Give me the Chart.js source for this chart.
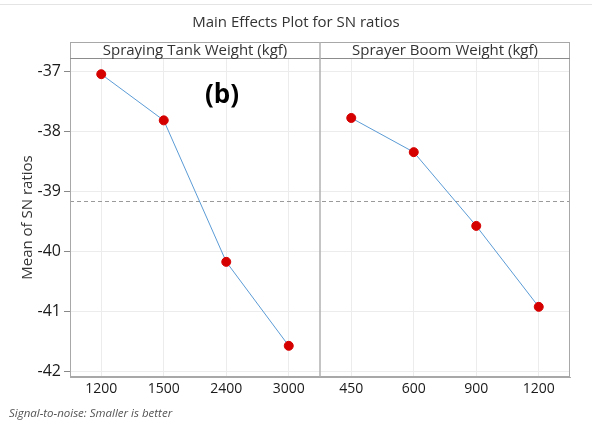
<!DOCTYPE html>
<html>
<head>
<meta charset="utf-8">
<script src="https://cdn.jsdelivr.net/npm/chart.js@4"></script>
<style>
  html, body { margin: 0; padding: 0; background: #fff; }
  #wrap { position: relative; width: 592px; height: 429px; }
  #topline { position: absolute; left: 0; top: 4px; width: 592px; height: 1px; background: #e4e4e4; }
  canvas { position: absolute; left: 0; top: 0; }
</style>
</head>
<body>
<div id="wrap">
  <div id="topline"></div>
  <canvas id="chart" width="592" height="429"></canvas>
</div>
<script>
const panels = ['Spraying Tank Weight (kgf)', 'Sprayer Boom Weight (kgf)']
const tankLevels = ['1200', '1500', '2400', '3000']
const boomLevels = ['450', '600', '900', '1200']
const tankSN = [-37.05, -37.82, -40.18, -41.58]
const boomSN = [-37.78, -38.35, -39.58, -40.93]

const FONT = '"Open Sans", "Noto Sans", sans-serif'
const labels = tankLevels.concat(boomLevels)
const tankData = tankSN.concat([null, null, null, null])
const boomData = [null, null, null, null].concat(boomSN)
const allSN = tankSN.concat(boomSN)
const grandMean = allSN.reduce((a, b) => a + b, 0) / allSN.length

const decor = {
    id: 'decor',
    beforeDatasetsDraw(chart) {
        const ctx = chart.ctx
        const a = chart.chartArea
        const x = chart.scales.x
        const y = chart.scales.y
        const headTop = 42
        const midX = (x.getPixelForValue(3) + x.getPixelForValue(4)) / 2

        ctx.save()
        // mean reference line
        const ym = Math.round(y.getPixelForValue(grandMean)) + 0.5
        ctx.strokeStyle = '#9a9a9a'
        ctx.lineWidth = 1
        ctx.setLineDash([4, 3])
        ctx.beginPath()
        ctx.moveTo(a.left, ym)
        ctx.lineTo(a.right, ym)
        ctx.stroke()
        ctx.setLineDash([])

        // outer frame + header strip
        ctx.strokeStyle = '#a8a8a8'
        ctx.strokeRect(a.left + 0.5, headTop + 0.5, a.right - a.left - 1, a.bottom - headTop - 1)
        ctx.strokeStyle = '#8c8c8c'
        ctx.beginPath()
        ctx.moveTo(a.left, a.top + 0.5)
        ctx.lineTo(a.right, a.top + 0.5)
        ctx.stroke()

        // panel divider
        ctx.strokeStyle = '#b0b0b0'
        ctx.lineWidth = 1.5
        ctx.beginPath()
        ctx.moveTo(midX, headTop)
        ctx.lineTo(midX, a.bottom)
        ctx.stroke()

        // panel headers
        ctx.fillStyle = '#333'
        ctx.font = '15px ' + FONT
        ctx.textAlign = 'center'
        ctx.textBaseline = 'middle'
        ctx.fillText(panels[0], (a.left + midX) / 2, (headTop + a.top) / 2 + 1)
        ctx.fillText(panels[1], (midX + a.right) / 2, (headTop + a.top) / 2 + 1)

        // chart title
        ctx.fillStyle = '#333'
        ctx.font = '15px ' + FONT
        ctx.fillText('Main Effects Plot for SN ratios', 296, 23)

        // panel tag
        ctx.fillStyle = '#000'
        ctx.font = 'bold 26px ' + FONT
        ctx.fillText('(b)', 222, 96)

        // footnote
        ctx.fillStyle = '#555'
        ctx.font = 'italic 11.5px ' + FONT
        ctx.textAlign = 'left'
        ctx.fillText('Signal-to-noise: Smaller is better', 9, 414)
        ctx.restore()
    }
}

const lineStyle = {
    borderColor: '#5b9bd5',
    borderWidth: 1,
    pointBackgroundColor: '#d50000',
    pointBorderColor: '#d50000',
    pointRadius: 4.5,
    spanGaps: false,
    tension: 0
}

new Chart(document.getElementById('chart'), {
    type: 'line',
    data: {
        labels: labels,
        datasets: [
            Object.assign({ label: panels[0], data: tankData }, lineStyle),
            Object.assign({ label: panels[1], data: boomData }, lineStyle)
        ]
    },
    options: {
        responsive: false,
        animation: false,
        devicePixelRatio: 1,
        layout: { padding: { top: 58, right: 22, left: 19, bottom: 0 } },
        plugins: { legend: { display: false }, title: { display: false }, tooltip: { enabled: false } },
        scales: {
            x: {
                offset: true,
                grid: { color: '#ececec', offset: false, drawTicks: false },
                border: { display: true, color: '#a8a8a8' },
                ticks: { color: '#1a1a1a', font: { family: FONT, size: 14 }, padding: 4, maxRotation: 0 },
                afterFit(s) { s.height = 52 }
            },
            y: {
                min: -42.1,
                max: -36.78,
                grid: { color: '#ececec', tickColor: '#888', tickLength: 6 },
                border: { display: true, color: '#a8a8a8' },
                ticks: { stepSize: 1, includeBounds: false, color: '#1a1a1a', font: { family: FONT, size: 16 }, padding: 3 },
                title: { display: true, text: 'Mean of SN ratios', color: '#333', font: { family: FONT, size: 15 }, padding: { top: 0, bottom: 0 } },
                afterFit(s) { s.width = 51 }
            }
        }
    },
    plugins: [decor]
})
</script>
</body>
</html>
